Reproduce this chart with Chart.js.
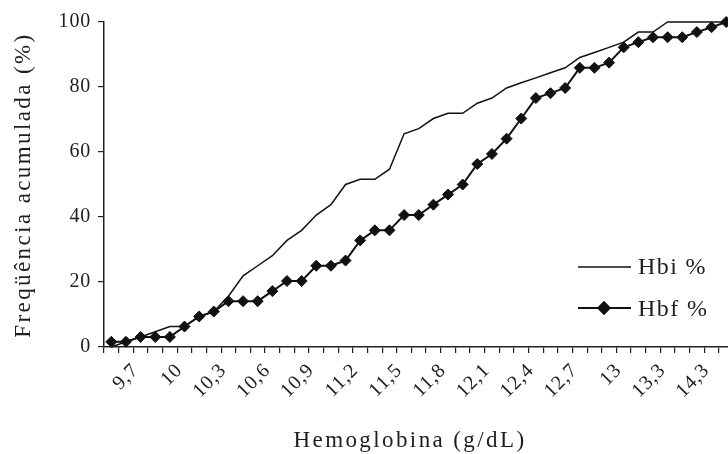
<!DOCTYPE html>
<html>
<head>
<meta charset="utf-8">
<script src="https://cdn.jsdelivr.net/npm/chart.js@4.4.0/dist/chart.umd.min.js"></script>
<style>
html,body{margin:0;padding:0;overflow:hidden;background:#fff}
#wrap{width:740px;height:454px;position:relative}
</style>
</head>
<body>
<div id="wrap"><canvas id="c"></canvas></div>
<script>
// ---- data ----
const categories = ['9,5','9,6','9,7','9,8','9,9','10','10,1','10,2','10,3','10,4','10,5','10,6','10,7','10,8','10,9','11','11,1','11,2','11,3','11,4','11,5','11,6','11,7','11,8','11,9','12','12,1','12,2','12,3','12,4','12,5','12,6','12,7','12,8','12,9','13','13,1','13,2','13,3','13,5','13,9','14,3','14,6'];
const hbi = [0,1.6,3.1,4.7,6.3,6.3,9.4,10.9,15.6,21.9,25.0,28.1,32.8,35.9,40.6,43.8,50.0,51.6,51.6,54.7,65.6,67.2,70.3,71.9,71.9,75.0,76.6,79.7,81.3,82.8,84.4,85.9,89.1,90.6,92.2,93.8,96.9,96.9,100,100,100,100,100];
const hbf = [1.6,1.6,3.1,3.1,3.1,6.3,9.4,10.9,14.1,14.1,14.1,17.2,20.3,20.3,25.0,25.0,26.6,32.8,35.9,35.9,40.6,40.6,43.8,46.9,50.0,56.3,59.4,64.1,70.3,76.6,78.1,79.7,85.9,85.9,87.5,92.2,93.8,95.3,95.3,95.3,96.9,98.4,100];
const yTicks = [0,20,40,60,80,100];
const seriesNames = ['Hbi %','Hbf %'];
const xTitle = 'Hemoglobina (g/dL)';
const yTitle = 'Freqüência acumulada (%)';

const FONT = '"Liberation Serif", "Times New Roman", serif';
const INK = '#1e1e1e';

const spacingPlugin = {
  id: 'spacing',
  beforeUpdate(chart){ chart.ctx.letterSpacing = '0.8px'; },
  beforeLayout(chart){ chart.ctx.letterSpacing = '0.8px'; },
  beforeDraw(chart){ chart.ctx.letterSpacing = '0.8px'; },
  afterDraw(chart){
    const ctx = chart.ctx;
    // axis titles
    ctx.save();
    ctx.fillStyle = INK;
    ctx.font = '23px ' + FONT;
    ctx.letterSpacing = '2.4px';
    ctx.textAlign = 'center';
    ctx.textBaseline = 'alphabetic';
    ctx.fillText(xTitle, 410, 447);
    ctx.translate(30, 185);
    ctx.rotate(-Math.PI/2);
    ctx.fillText(yTitle, 0, 0);
    ctx.restore();
    // legend
    ctx.save();
    ctx.font = '24px ' + FONT;
    ctx.letterSpacing = '1.4px';
    ctx.fillStyle = INK;
    ctx.textAlign = 'left';
    ctx.textBaseline = 'alphabetic';
    const rows = [{ly:267, ty:274},{ly:308, ty:316}];
    chart.data.datasets.forEach((ds, i) => {
      const r = rows[i];
      ctx.strokeStyle = ds.borderColor;
      ctx.lineWidth = ds.borderWidth;
      ctx.beginPath();
      ctx.moveTo(578, r.ly);
      ctx.lineTo(631, r.ly);
      ctx.stroke();
      if (ds.pointRadius > 0) {
        Chart.helpers.drawPoint(ctx, {pointStyle: ds.pointStyle, radius: ds.pointRadius, borderWidth: 1}, 604, r.ly);
        ctx.fillStyle = ds.backgroundColor;
        ctx.fill();
        ctx.stroke();
        ctx.fillStyle = INK;
      }
      ctx.fillText(ds.label, 638, r.ty);
    });
    ctx.restore();
  }
};

new Chart(document.getElementById('c'), {
  type: 'line',
  data: {
    labels: categories,
    datasets: [
      { label: seriesNames[0], data: hbi, borderColor: '#111', backgroundColor: '#111', borderWidth: 1.5, pointRadius: 0, tension: 0, clip: false },
      { label: seriesNames[1], data: hbf, borderColor: '#111', backgroundColor: '#111', borderWidth: 2, pointStyle: 'rectRot', pointRadius: 5.5, pointBorderWidth: 1, tension: 0, clip: false }
    ]
  },
  options: {
    responsive: true,
    maintainAspectRatio: false,
    animation: false,
    devicePixelRatio: 1,
    layout: { padding: { top: 22, right: 0, bottom: 0, left: 0 } },
    plugins: { legend: { display: false }, tooltip: { enabled: false }, title: { display: false } },
    scales: {
      x: {
        type: 'category',
        offset: true,
        grid: { offset: true, drawOnChartArea: false, drawTicks: true, tickLength: 6, color: '#222', lineWidth: 1.2 },
        border: { display: true, color: '#222', width: 1.5 },
        ticks: {
          autoSkip: false, minRotation: 45, maxRotation: 45, padding: 6, labelOffset: -5, color: INK,
          font: { family: FONT, size: 20 },
          callback: (v, i) => (i % 3 === 2 ? categories[i] : '')
        },
        afterFit: s => { s.height = 107; s.paddingRight = 0; s.paddingLeft = 0; }
      },
      y: {
        min: 0, max: 100,
        afterBuildTicks: s => { s.ticks = yTicks.map(v => ({ value: v })); },
        grid: { drawOnChartArea: false, drawTicks: true, tickLength: 6, color: '#222', lineWidth: 1.2 },
        border: { display: true, color: '#222', width: 1.5 },
        ticks: { padding: 7, color: INK, font: { family: FONT, size: 20 } },
        afterFit: s => { s.width = 104; }
      }
    }
  },
  plugins: [spacingPlugin]
});
</script>
</body>
</html>
